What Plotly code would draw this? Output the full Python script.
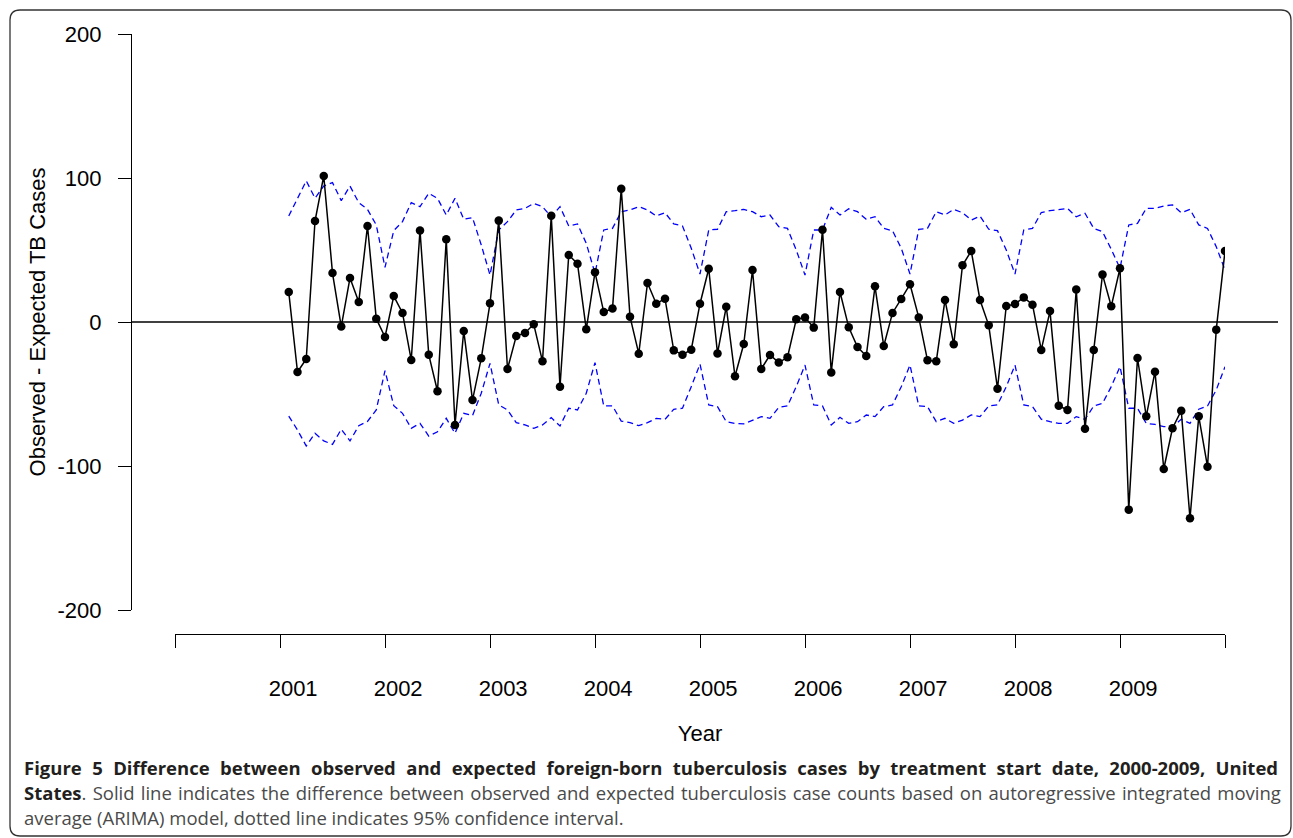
import plotly.graph_objects as go

# ---- data (monthly, Jan 2001 .. Dec 2009) ----
month_index = list(range(1, 109))
diff_values = [
    20.8, -34.7, -25.7, 70.1, 101.4, 34.0, -3.2, 30.6, 13.9, 66.7, 2.3, -10.4,
    18.0, 6.3, -26.4, 63.6, -22.7, -48.1, 57.4, -71.5, -6.2, -54.2,
    -25.2, 13.0, 70.4, -32.6, -9.7, -7.6, -1.6, -27.3, 73.8, -44.9, 46.5, 40.5, -5.1, 34.5,
    6.9, 9.3, 92.6, 3.7, -22.0, 27.1, 12.7,
    16.2, -19.7, -22.7, -19.2, 12.7, 37.0, -21.8, 10.6, -37.7, -15.3, 36.1, -32.6,
    -22.9, -28.2, -24.5, 1.9, 3.2, -3.9, 64.1, -35.0, 20.8, -3.7,
    -17.4, -23.6, 24.8, -16.7, 6.3, 16.0, 26.2, 3.2, -26.6, -27.3, 15.3, -15.5,
    39.4, 49.3, 15.3, -2.3, -46.3, 11.1, 12.5, 17.1, 12.0, -19.4,
    7.6, -58.1, -61.1, 22.5, -74.1, -19.4, 32.9, 10.9, 37.3, -130.3, -25.0, -65.5,
    -34.5, -102.1, -73.8, -61.6, -136.3, -65.5, -100.5, -5.3, 49.3,
]
upper_ci = [
    73.6, 86.0, 98.0, 86.0, 94.4, 96.8, 84.3, 94.4, 82.9, 78.2, 67.4, 38.0,
    63.4, 69.7, 82.9, 80.1, 89.4, 85.9, 74.3, 85.9, 71.3, 72.5,
    53.5, 32.6, 63.9, 69.7, 77.8, 78.9, 82.4, 80.1, 73.1, 80.1, 66.7, 68.1, 54.6, 33.8,
    63.9, 65.0, 76.6, 77.8, 80.1, 77.8, 73.6,
    75.9, 68.1, 66.7, 51.2, 33.3, 63.9, 64.4, 76.6, 77.3, 78.2, 76.6, 73.1,
    74.3, 66.2, 65.0, 50.0, 32.6, 63.9, 63.9, 79.6, 74.3, 78.6,
    76.6, 71.3, 73.1, 65.0, 63.4, 51.2, 33.3, 64.4, 65.0, 76.6, 74.3, 78.2,
    75.9, 70.8, 73.6, 64.4, 63.4, 50.0, 33.3, 63.9, 65.0, 76.0,
    77.3, 78.2, 78.9, 73.1, 75.5, 65.0, 62.7, 50.5, 37.3, 67.4, 68.5, 78.9,
    78.9, 80.6, 81.3, 75.9, 78.2, 67.4, 65.0, 52.3, 36.1,
]
lower_ci = [
    -65.3, -75.0, -86.1, -77.3, -82.6, -85.0, -74.5, -82.6, -72.0, -69.0, -61.1, -33.8,
    -58.1, -63.4, -73.8, -70.4, -79.2, -76.2, -66.9, -77.3, -63.4, -65.0,
    -49.5, -28.7, -57.6, -61.1, -69.9, -71.5, -73.8, -71.5, -66.4, -72.2, -59.9, -61.1, -49.5, -28.2,
    -58.3, -58.3, -68.8, -69.9, -72.0, -69.9, -66.9,
    -67.6, -60.6, -59.9, -44.9, -29.2, -57.6, -58.8, -69.2, -70.4, -70.8, -68.1, -65.7,
    -66.9, -59.3, -58.3, -44.9, -29.9, -57.6, -58.3, -71.5, -66.2, -70.4,
    -69.2, -64.6, -65.7, -58.8, -57.6, -44.9, -29.9, -58.3, -58.8, -69.2, -66.9, -70.4,
    -68.1, -64.6, -65.7, -58.3, -57.6, -44.9, -29.9, -57.6, -58.8, -67.5,
    -69.2, -70.4, -70.4, -65.7, -67.6, -58.3, -56.5, -44.9, -31.0, -59.9, -59.9, -70.4,
    -71.1, -72.7, -72.7, -67.6, -70.4, -60.6, -58.3, -47.2, -31.0,
]
tick_years = list(range(2000, 2011))
label_years = list(range(2001, 2010))
y_ticks = [-200, -100, 0, 100, 200]
y_tick_text = ["-200", "-100", "0", "100", "200"]

x_dates = [2001 + m / 12 for m in month_index]
label_pos = [y + 0.125 for y in label_years]

W, H = 1293, 838
ML, MR, MT, MB = 131, 15, 11, 204
PW, PH = W - ML - MR, H - MT - MB


def px_x(p):
    return (p - ML) / PW


def px_y(p):
    return (H - MB - p) / PH


FONT = "Liberation Sans, Arial, Helvetica, sans-serif"

fig = go.Figure()
dash_style = dict(color="#0000ff", width=1.3, dash="6px,4px")
fig.add_trace(go.Scatter(x=x_dates, y=upper_ci, mode="lines", line=dash_style,
                         xaxis="x", yaxis="y", showlegend=False, hoverinfo="skip"))
fig.add_trace(go.Scatter(x=x_dates, y=lower_ci, mode="lines", line=dash_style,
                         xaxis="x", yaxis="y", showlegend=False, hoverinfo="skip"))
fig.add_trace(go.Scatter(x=x_dates, y=diff_values, mode="lines+markers",
                         line=dict(color="black", width=1.5),
                         marker=dict(color="black", size=8.5),
                         xaxis="x2", yaxis="y", showlegend=False))

xdom = [px_x(175), px_x(1225)]
ydom = [px_y(610), px_y(34)]

fig.update_layout(
    width=W, height=H,
    margin=dict(l=ML, r=MR, t=MT, b=MB, autoexpand=False),
    paper_bgcolor="white", plot_bgcolor="white",
    font=dict(family=FONT, size=22, color="black"),
    xaxis=dict(domain=xdom, range=[2000, 2010], anchor="free", position=0,
               automargin=False,
               showline=True, linecolor="black", linewidth=1.3,
               ticks="outside", ticklen=13, tickwidth=1.3, tickcolor="black",
               tickvals=tick_years, showticklabels=False,
               showgrid=False, zeroline=False),
    xaxis2=dict(domain=xdom, range=[2000, 2010], anchor="free", position=0,
                overlaying="x", side="bottom", automargin=False,
                showline=False, ticks="", tickvals=label_pos,
                ticktext=[str(y) for y in label_years],
                ticklabelstandoff=39,
                tickfont=dict(family=FONT, size=22, color="black"),
                title=dict(text="Year", standoff=25,
                           font=dict(family=FONT, size=22, color="black")),
                showgrid=False, zeroline=False),
    yaxis=dict(domain=ydom, range=[-200, 200], anchor="free", position=0,
               automargin=False,
               showline=True, linecolor="black", linewidth=1.3,
               ticks="outside", ticklen=13, tickwidth=1.3, tickcolor="black",
               tickvals=y_ticks, ticktext=y_tick_text, ticklabelstandoff=12,
               tickfont=dict(family=FONT, size=22, color="black"),
               title=dict(text="Observed - Expected TB Cases", standoff=4,
                          font=dict(family=FONT, size=22, color="black")),
               showgrid=False, zeroline=False),
)

# zero reference line across the plot region
fig.add_shape(type="line", xref="paper", yref="y", x0=0, x1=1, y0=0, y1=0,
              line=dict(color="black", width=1.3), layer="below")

# rounded outer frame
L, R, T, B = px_x(10), px_x(1291), px_y(10), px_y(836)
rx, ry = 10 / PW, 10 / PH
path = (f"M {L+rx},{T} L {R-rx},{T} Q {R},{T} {R},{T-ry} "
        f"L {R},{B+ry} Q {R},{B} {R-rx},{B} L {L+rx},{B} Q {L},{B} {L},{B+ry} "
        f"L {L},{T-ry} Q {L},{T} {L+rx},{T} Z")
fig.add_shape(type="path", xref="paper", yref="paper", path=path,
              line=dict(color="#333333", width=1.3), fillcolor="rgba(0,0,0,0)")

CAP = "Open Sans, Noto Sans, sans-serif"
caption_lines = [
    "<span style='word-spacing:5.6px'><b>Figure 5 Difference between observed and expected foreign-born tuberculosis cases by treatment start date, 2000-2009, United</b></span>",
    "<span style='word-spacing:1.4px'><b><span style='color:#231f20'>States</span></b>. Solid line indicates the difference between observed and expected tuberculosis case counts based on autoregressive integrated moving</span>",
    "average (ARIMA) model, dotted line indicates 95% confidence interval.",
]
caption_y = [767, 792, 817]
caption_colors = ["#231f20", "#4a4a4a", "#4a4a4a"]
for txt, yy, col in zip(caption_lines, caption_y, caption_colors):
    fig.add_annotation(text=txt, xref="paper", yref="paper",
                       x=px_x(22), y=px_y(yy), xanchor="left", yanchor="middle",
                       showarrow=False, align="left",
                       font=dict(family=CAP, size=18.5, color=col))

fig.write_html("out.html", config={"displayModeBar": False},
               post_script="document.body.style.margin='0';document.body.style.overflow='hidden';")
